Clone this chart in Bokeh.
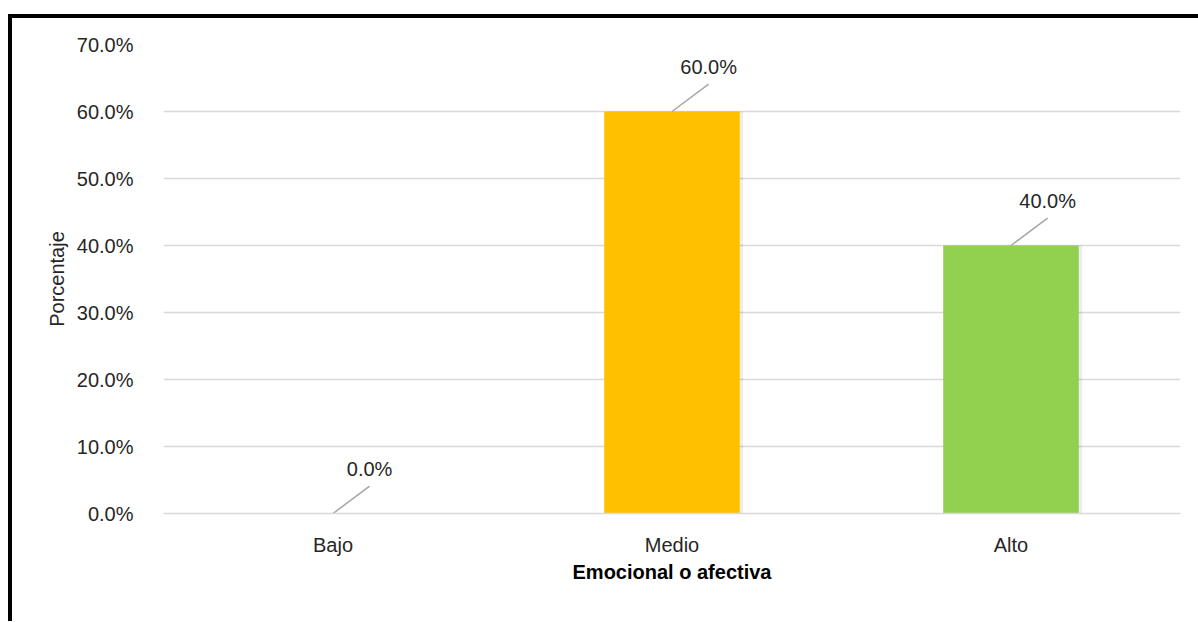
from bokeh.plotting import figure
from bokeh.models import FactorRange, Range1d, FixedTicker, NumeralTickFormatter, ColumnDataSource
from bokeh.layouts import column
from bokeh.core.properties import value
from bokeh.embed import file_html
from bokeh.resources import INLINE

categories = ["Bajo", "Medio", "Alto"]
percentages = [0.0, 0.60, 0.40]
bar_colors = ["#A5A5A5", "#FFC000", "#92D050"]
y_ticks = [0.0, 0.1, 0.2, 0.3, 0.4, 0.5, 0.6, 0.7]
x_title = "Emocional o afectiva"
y_title = "Porcentaje"

FONT = "Liberation Sans"
TXT = "#262626"

p = figure(x_range=FactorRange(*categories, range_padding=0),
           y_range=Range1d(0, 0.7),
           width=1186, height=603,
           min_border_left=151, min_border_right=18,
           min_border_top=26, min_border_bottom=108,
           output_backend="svg", toolbar_location=None,
           outline_line_color=None)

src = ColumnDataSource(dict(cat=categories, val=percentages, col=bar_colors,
                            lbl=[f"{v*100:.1f}%" for v in percentages]))

# soft shadow
shadow_x = [(c, 0.010) for c in categories]
p.vbar(x=shadow_x, top=percentages, width=0.4, bottom=-0.002,
       fill_color="#000000", fill_alpha=[0 if v == 0 else 0.07 for v in percentages],
       line_color=None)

p.vbar(x="cat", top="val", width=0.4, source=src, fill_color="col",
       line_color=None)

# leader lines and labels
dx, dy = 0.108, 0.041
xs0 = [(c, 0.0) for c in categories]
xs1 = [(c, dx) for c in categories]
p.segment(x0=xs0, y0=percentages, x1=xs1, y1=[v + dy for v in percentages],
          line_color="#A6A6A6", line_width=1.5)
p.text(x=[(c, dx) for c in categories], y=[v + dy + 0.026 for v in percentages],
       text=src.data["lbl"], text_align="center", text_baseline="middle",
       text_font=value(FONT), text_font_size="20px", text_color=TXT)

# axes
p.yaxis.ticker = FixedTicker(ticks=y_ticks)
p.yaxis.formatter = NumeralTickFormatter(format="0.0%")
p.yaxis.axis_line_color = None
p.yaxis.major_tick_line_color = None
p.yaxis.minor_tick_line_color = None
p.yaxis.major_label_standoff = 24
p.yaxis.major_label_text_font = FONT
p.yaxis.major_label_text_font_size = "20px"
p.yaxis.major_label_text_color = TXT
p.yaxis.axis_label = y_title
p.yaxis.axis_label_text_font = FONT
p.yaxis.axis_label_text_font_size = "20px"
p.yaxis.axis_label_text_font_style = "normal"
p.yaxis.axis_label_text_color = TXT
p.yaxis.axis_label_standoff = 6

p.xaxis.axis_line_color = "#D9D9D9"
p.xaxis.axis_line_width = 1.5
p.xaxis.major_tick_line_color = None
p.xaxis.minor_tick_line_color = None
p.xaxis.major_label_standoff = 14
p.xaxis.major_label_text_font = FONT
p.xaxis.major_label_text_font_size = "20px"
p.xaxis.major_label_text_color = TXT
p.xaxis.axis_label = x_title
p.xaxis.axis_label_text_font = FONT
p.xaxis.axis_label_text_font_size = "20px"
p.xaxis.axis_label_text_font_style = "bold"
p.xaxis.axis_label_text_color = "#000000"
p.xaxis.axis_label_standoff = 2

p.xgrid.grid_line_color = None
p.ygrid.grid_line_color = "#D9D9D9"
p.ygrid.grid_line_width = 1.5

layout = column(p, margin=(14, 0, 0, 8),
                styles={"border-left": "4px solid black", "border-top": "4px solid black"})

open("out.html", "w").write(file_html(layout, INLINE))
